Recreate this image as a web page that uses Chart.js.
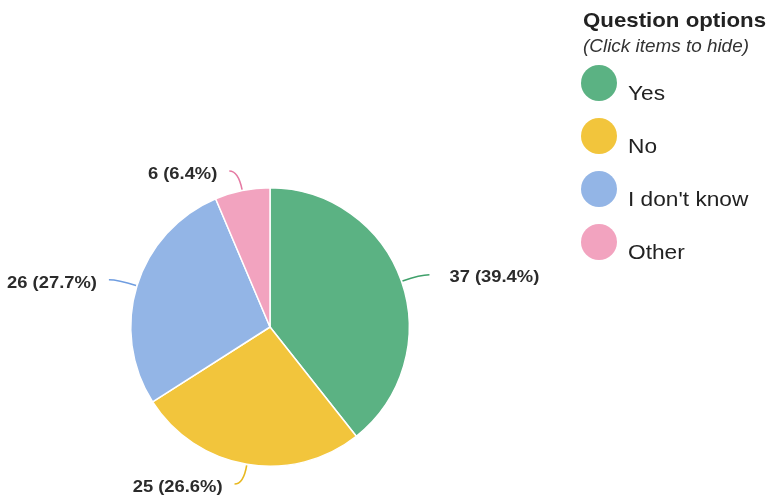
<!DOCTYPE html>
<html>
<head>
<meta charset="utf-8">
<script src="https://cdn.jsdelivr.net/npm/chart.js@4.4.1/dist/chart.umd.min.js"></script>
<style>
  html, body { margin: 0; padding: 0; background: #fff; }
  body { width: 770px; height: 499px; position: relative; overflow: hidden; font-family: "Liberation Sans", Arial, sans-serif; }
  #wrap { position: absolute; left: 0; top: 0; width: 770px; height: 499px; }
  #legend { position: absolute; left: 570px; top: 0; width: 200px; height: 280px; color: #222; }
  #legend .title { position: absolute; left: 13px; top: 8px; font-weight: bold; font-size: 21px; white-space: nowrap; transform: scaleX(1.06); transform-origin: left center; }
  #legend .sub { position: absolute; left: 13px; top: 36px; font-style: italic; font-size: 17.5px; white-space: nowrap; color: #333; transform: scaleX(1.08); transform-origin: left center; }
  #legend .item { position: absolute; left: 11px; height: 36px; white-space: nowrap; cursor: pointer; }
  #legend .dot { position: absolute; left: 0; top: 0; width: 36px; height: 36px; border-radius: 50%; }
  #legend .lbl { position: absolute; left: 47px; top: 16px; font-size: 21px; color: #222; transform: scaleX(1.08); transform-origin: left center; }
</style>
</head>
<body>
<div id="wrap"><canvas id="c"></canvas></div>
<div id="legend"></div>
<script>
const categories = ["Yes", "No", "I don't know", "Other"];
const counts = [37, 25, 26, 6];
const percents = ["39.4%", "26.6%", "27.7%", "6.4%"];
const colors = ["#5bb283", "#f2c53c", "#93b5e6", "#f2a3bf"];
const lineColors = ["#3fa06a", "#e8b820", "#6f9de0", "#e57aa3"];
const legendTitle = "Question options";
const legendSubtitle = "(Click items to hide)";

const labelPlugin = {
  id: 'leaderLabels',
  afterDatasetsDraw(chart) {
    const ctx = chart.ctx;
    const meta = chart.getDatasetMeta(0);
    ctx.save();
    meta.data.forEach((arc, i) => {
      if (!chart.getDataVisibility(i)) return;
      const p = arc.getProps(['x', 'y', 'startAngle', 'endAngle', 'outerRadius'], true);
      const mid = (p.startAngle + p.endAngle) / 2;
      const c = Math.cos(mid), s = Math.sin(mid);
      const r0 = p.outerRadius + 1, r1 = p.outerRadius + 20;
      const x0 = p.x + c * r0, y0 = p.y + s * r0;
      const x1 = p.x + c * r1, y1 = p.y + s * r1;
      const dir = c >= 0 ? 1 : -1;
      const x2 = x1 + dir * 9, y2 = y1;
      ctx.strokeStyle = lineColors[i];
      ctx.lineWidth = 1.6;
      ctx.beginPath();
      ctx.moveTo(x0, y0);
      ctx.quadraticCurveTo(x1, y1, x2, y2);
      ctx.stroke();
      ctx.fillStyle = '#2b2b2b';
      ctx.font = 'bold 17px "Liberation Sans", Arial, sans-serif';
      ctx.textBaseline = 'middle';
      ctx.textAlign = dir > 0 ? 'left' : 'right';
      const gap = dir > 0 ? 20 : 12;
      const tx = x2 + dir * gap, ty = y2 + 3;
      ctx.save();
      ctx.translate(tx, ty);
      ctx.scale(1.08, 1);
      ctx.fillText(counts[i] + ' (' + percents[i] + ')', 0, 0);
      ctx.restore();
    });
    ctx.restore();
  }
};

const chart = new Chart(document.getElementById('c'), {
  type: 'pie',
  data: {
    labels: categories,
    datasets: [{
      data: counts,
      backgroundColor: colors,
      borderColor: '#ffffff',
      borderWidth: 1.5,
      hoverOffset: 0
    }]
  },
  options: {
    responsive: true,
    maintainAspectRatio: false,
    animation: false,
    layout: { padding: { top: 187, bottom: 32, left: 0, right: 230 } },
    plugins: {
      legend: { display: false },
      tooltip: { enabled: false }
    }
  },
  plugins: [labelPlugin]
});

// HTML legend built from the arrays
const lg = document.getElementById('legend');
const t = document.createElement('div'); t.className = 'title'; t.textContent = legendTitle; lg.appendChild(t);
const st = document.createElement('div'); st.className = 'sub'; st.textContent = legendSubtitle; lg.appendChild(st);
categories.forEach((name, i) => {
  const it = document.createElement('div');
  it.className = 'item';
  it.style.top = (65 + i * 53) + 'px';
  const d = document.createElement('div'); d.className = 'dot'; d.style.background = colors[i];
  const l = document.createElement('div'); l.className = 'lbl'; l.textContent = name;
  it.appendChild(d); it.appendChild(l);
  it.onclick = () => { chart.toggleDataVisibility(i); chart.update(); it.style.opacity = chart.getDataVisibility(i) ? 1 : 0.4; };
  lg.appendChild(it);
});
</script>
</body>
</html>
